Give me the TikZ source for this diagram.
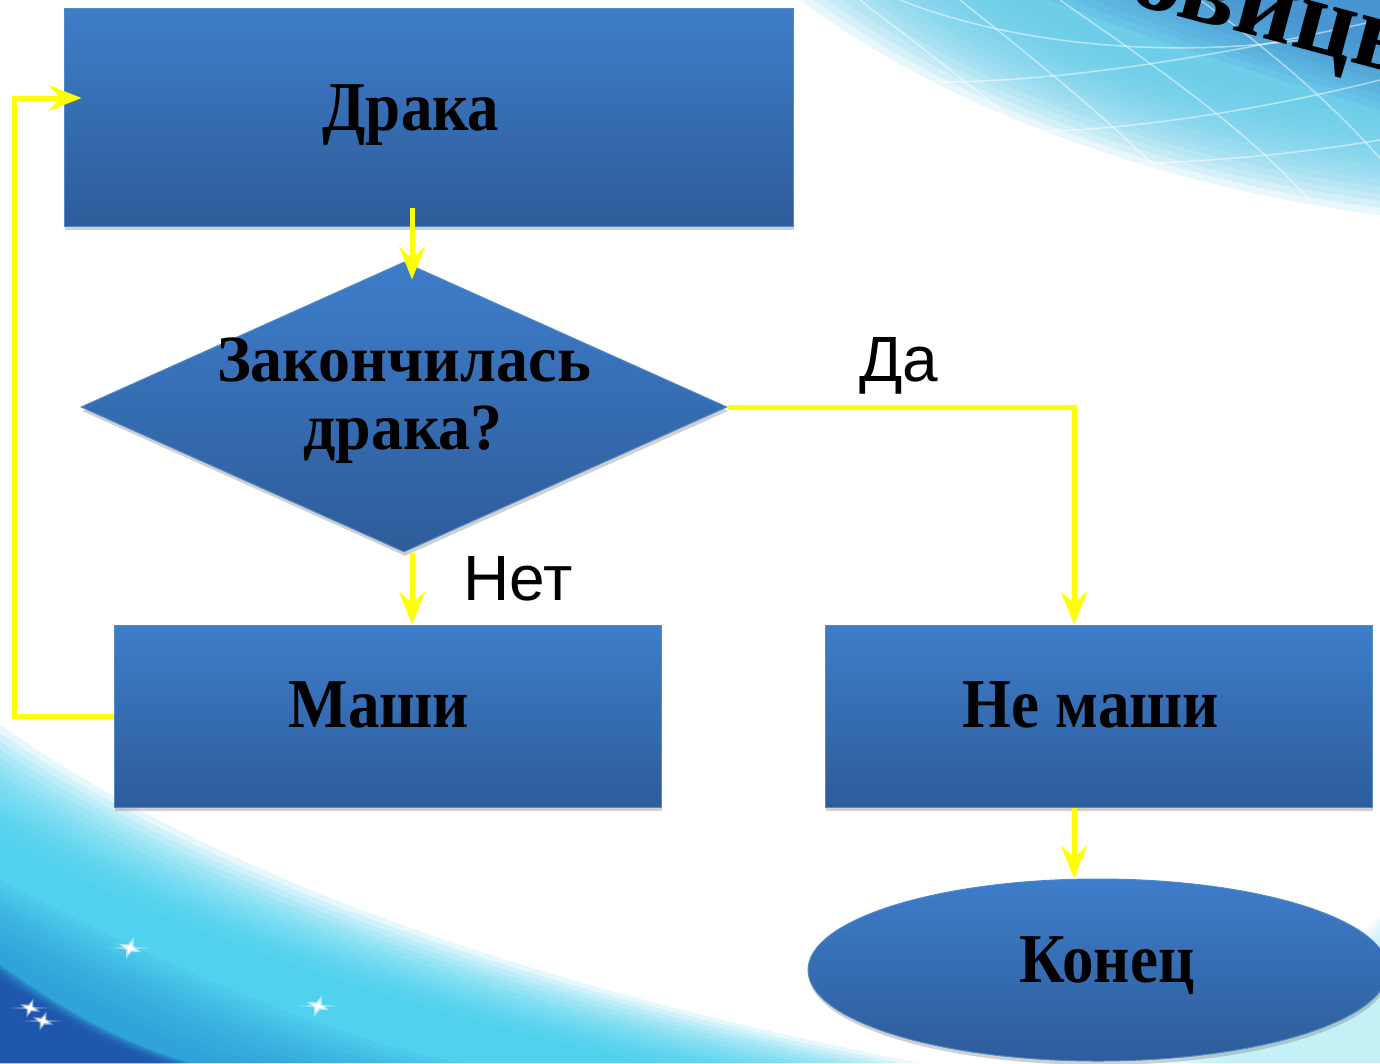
\documentclass[tikz,border=0pt]{standalone}
\usepackage{fontspec}
\setmainfont{Liberation Serif}
\newfontfamily\arialf{Liberation Sans}
\newfontfamily\condserif[FakeStretch=0.9]{Liberation Serif}
\usetikzlibrary{arrows.meta,shapes.geometric,shadows,calc}
\definecolor{boxtop}{HTML}{3E7DCA}
\definecolor{boxbot}{HTML}{2D5C99}
\definecolor{boxline}{HTML}{4F8AC9}
\definecolor{yel}{HTML}{FFFF00}
\definecolor{cyA}{HTML}{A8ECF6}
\definecolor{cyB}{HTML}{62CCEA}
\definecolor{cyD}{HTML}{3F86CC}
\definecolor{cyE}{HTML}{38CDEE}
\definecolor{cyF}{HTML}{2590D4}
\definecolor{cyG}{HTML}{1D4FA8}
\begin{document}
\begin{tikzpicture}[x=1pt,y=-1pt,
  blk/.style={draw=boxline, line width=1pt, top color=boxtop, bottom color=boxbot,
    drop shadow={shadow xshift=1pt, shadow yshift=-4pt, opacity=0.3, fill=black!60}, inner sep=0pt},
  rectbox/.style={blk, rectangle, minimum width=#1},
  lbl/.style={font=\condserif\fontsize{70}{70}\selectfont\bfseries, text=black, inner sep=0pt, anchor=base},
  dlbl/.style={font=\fontsize{66}{66}\selectfont\bfseries, text=black, inner sep=0pt, anchor=base, xscale=0.97},
  yn/.style={font=\arialf\fontsize{64}{64}\selectfont, text=black, inner sep=0pt, anchor=base},
  arr/.style={draw=yel, line width=5pt, -{Stealth[length=33pt,width=26pt,inset=12pt]}},
  gridline/.style={draw=white, line width=1.5pt, opacity=0.5},
  sparkle/.pic={
    \fill[white, opacity=0.35] (-22,8) -- (0,-1.5) -- (22,-8) -- (0,1.5) -- cycle;
    \fill[white, opacity=0.5] (0,-11) -- (3,-3) -- (12,0) -- (3,3) -- (0,11) -- (-3,3) -- (-12,0) -- (-3,-3) -- cycle;
    \fill[white] (0,-7) -- (1.8,-1.8) -- (8,0) -- (1.8,1.8) -- (0,7) -- (-1.8,1.8) -- (-8,0) -- (-1.8,-1.8) -- cycle;
  }
]
\useasboundingbox (0,0) rectangle (1380,1063);
\fill[white] (0,0) rectangle (1380,1063);

% ---------- background: top right ----------
\foreach \i in {0,...,14}{
  \pgfmathsetmacro\t{\i/14}
  \fill[cyB, opacity=0.14] ({800+200*\t},0) .. controls ({940+160*\t},{105-45*\t}) and ({1150+80*\t},{185-85*\t}) .. (1380,{215-100*\t}) -- (1380,0) -- cycle;
}
\foreach \i in {0,...,9}{
  \pgfmathsetmacro\t{\i/9}
  \fill[cyD, opacity=0.13] ({1050+200*\t},0) .. controls ({1150+150*\t},{40-20*\t}) and ({1280+60*\t},{80-40*\t}) .. (1380,{110-70*\t}) -- (1380,0) -- cycle;
}
\begin{scope}
  \clip (800,0) .. controls (940,105) and (1150,185) .. (1380,215) -- (1380,0) -- cycle;
  \draw[gridline] (860,0) .. controls (950,70) and (1060,150) .. (1120,230);
  \draw[gridline] (960,0) .. controls (1060,80) and (1160,160) .. (1220,240);
  \draw[gridline] (1060,0) .. controls (1160,70) and (1280,150) .. (1340,240);
  \draw[gridline] (1200,0) .. controls (1270,50) and (1340,110) .. (1390,170);
  \draw[gridline] (1380,20) .. controls (1200,60) and (1020,90) .. (880,80);
  \draw[gridline] (1380,80) .. controls (1220,120) and (1060,140) .. (930,130);
  \draw[gridline] (1380,140) .. controls (1260,160) and (1120,170) .. (1000,160);
  \draw[gridline] (900,0) .. controls (1000,40) and (1150,60) .. (1300,40);
\end{scope}
\node[font=\fontsize{106}{106}\selectfont\bfseries, rotate=-15, anchor=base west, inner sep=0pt] (title) at (1126,2) {овицы};

% ---------- background: bottom left ----------
\foreach \i in {0,...,14}{
  \pgfmathsetmacro\t{\i/14}
  \fill[cyE, opacity=0.12] (0,{725+115*\t}) .. controls ({250-50*\t},{900+45*\t}) and ({600-150*\t},{1000+22*\t}) .. ({920-270*\t},1063) -- (0,1063) -- cycle;
}
\foreach \i in {0,...,9}{
  \pgfmathsetmacro\t{\i/9}
  \fill[cyF, opacity=0.1] (0,{880+70*\t}) .. controls ({150-60*\t},{960+40*\t}) and ({320-140*\t},{1035+15*\t}) .. ({460-220*\t},1063) -- (0,1063) -- cycle;
}
\foreach \i in {0,...,5}{
  \pgfmathsetmacro\t{\i/5}
  \fill[cyG, opacity=0.3] (0,{965+15*\t}) .. controls ({50-10*\t},{1000+5*\t}) and ({110-10*\t},{1040+5*\t}) .. ({190-30*\t},1063) -- (0,1063) -- cycle;
}
\foreach \i in {0,...,7}{
  \pgfmathsetmacro\t{\i/7}
  \fill[cyA, opacity=0.12] ({1160+60*\t},1063) .. controls ({1280+30*\t},{1000+15*\t}) and ({1340+15*\t},{955+20*\t}) .. (1380,{915+30*\t}) -- (1380,1063) -- cycle;
}
\pic[rotate=-20] at (130,948) {sparkle};
\pic[rotate=-20, scale=0.9] at (30,1008) {sparkle};
\pic[rotate=-20, scale=0.9] at (43,1021) {sparkle};
\pic[rotate=-20] at (318,1006) {sparkle};

% ---------- shapes ----------
\node[rectbox=729pt, minimum height=218pt] (draka) at (428.5,117) {};
\node[blk, diamond, minimum width=646pt, minimum height=290pt] (dia) at (404,407) {};
\node[rectbox=547pt, minimum height=182pt] (masha) at (387.5,716) {};
\node[rectbox=547pt, minimum height=182pt] (nemasha) at (1098.5,716) {};
\node[blk, ellipse, minimum width=580pt, minimum height=182pt] (kon) at (1098,970) {};

% ---------- texts ----------
\node[lbl] (t1) at (411,130) {Драка};
\node[dlbl] (t2a) at (404,381) {Закончилась};
\node[dlbl] (t2b) at (403,449) {драка?};
\node[lbl] (t3) at (379,727) {Маши};
\node[lbl] (t4) at (1091,727) {Не маши};
\node[lbl] (t5) at (1107,982) {Конец};
\node[yn] (da) at (899,381) {Да};
\node[yn] (net) at (518,600) {Нет};

% ---------- connectors ----------
\coordinate (col) at (412,0);
\coordinate (colr) at (1074,0);
\coordinate (loopend) at ($(draka.west)+(18,-19)$);
\draw[arr] ($(col |- draka.south)+(0,-19)$) -- ($(col |- dia.north)+(0,18)$);
\draw[arr] (col |- dia.south) -- (col |- masha.north);
\draw[arr] (dia.east) -| (colr |- nemasha.north);
\draw[arr] (colr |- nemasha.south) -- (colr |- kon.north);
\draw[arr] (masha.west) -- ++(-99,0) |- (loopend);
\end{tikzpicture}
\end{document}
